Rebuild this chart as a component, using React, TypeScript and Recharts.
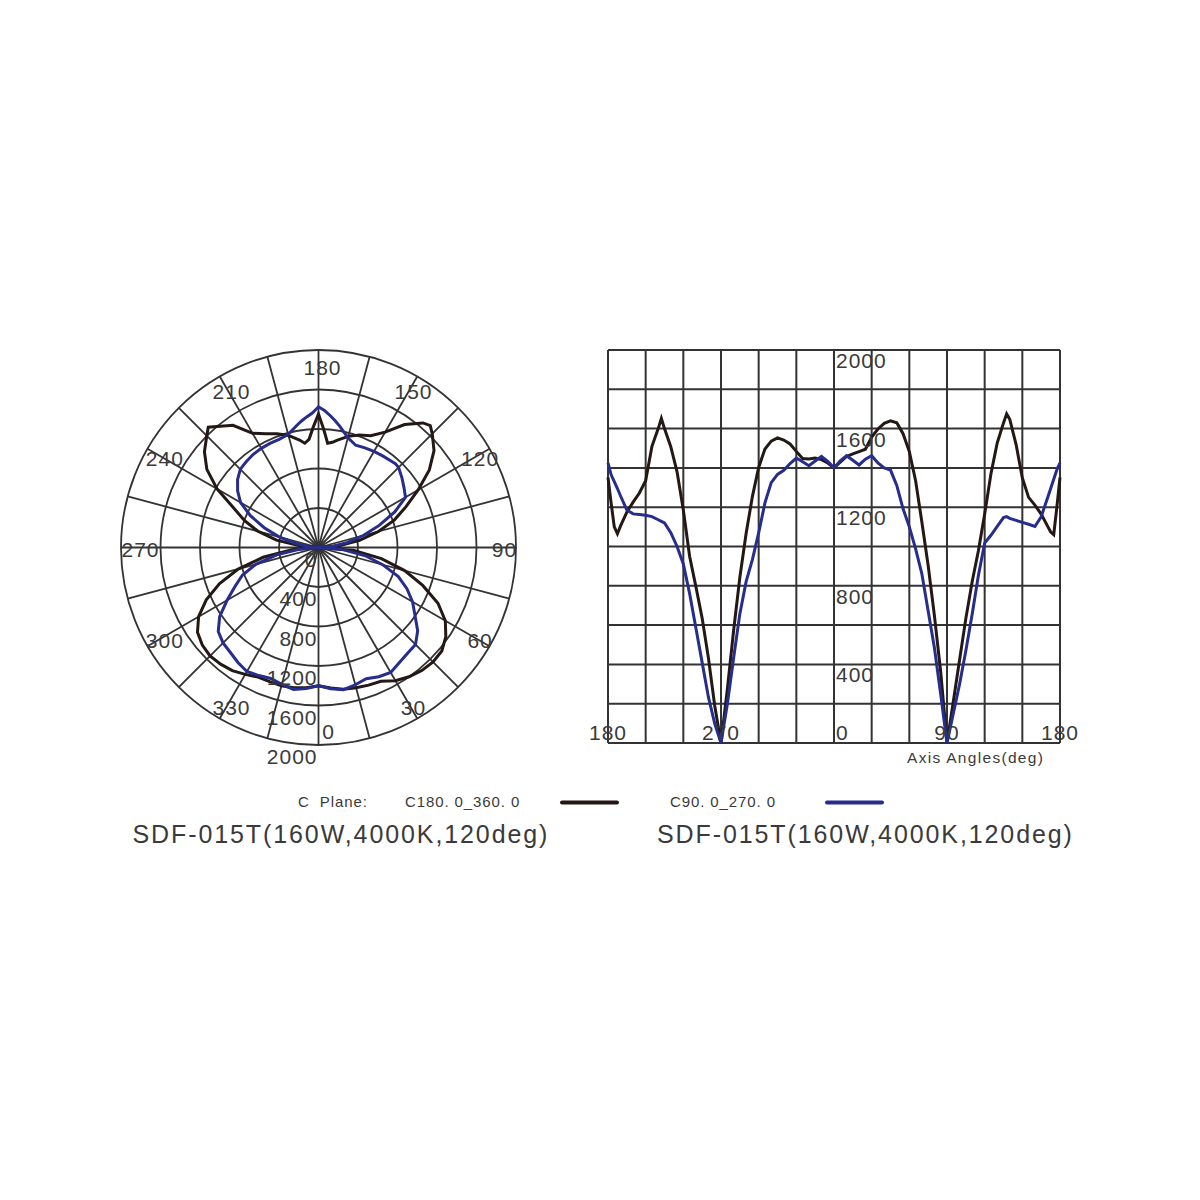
import React from "react";
import {
  RadarChart,
  Radar,
  PolarGrid,
  PolarAngleAxis,
  PolarRadiusAxis,
  LineChart,
  Line,
  XAxis,
  YAxis,
  CartesianGrid,
} from "recharts";

const FONT = '"Liberation Sans", Arial, Helvetica, sans-serif';
const TEXT = "#3a3a3a";
const GRID = "#333333";
const BLACK = "#231815";
const BLUE = "#262d8c";

// gamma angle (deg), 0 = nadir; a few half steps where the curves have spikes
const gammaAngles = [
  0, 5, 10, 15, 20, 25, 30, 35, 40, 45, 50, 55, 60, 65, 70, 75, 80, 85, 90,
  95, 100, 105, 110, 115, 120, 125, 130, 135, 137.5, 140, 145, 150, 155, 160, 165, 170, 172.5, 175, 177.5,
  180, 182.5, 185, 187.5, 190, 195, 200, 205, 210, 215, 220, 222.5,
  225, 230, 235, 240, 245, 250, 255, 260, 265, 270,
  275, 280, 285, 290, 295, 300, 305, 310, 315, 320, 325, 330, 335, 340, 345, 350, 355,
];

// C180.0_360.0 (cd)
const c180Values = [
  1400, 1429, 1458, 1471, 1483, 1495, 1557, 1598, 1627, 1640, 1630, 1574, 1483, 1335, 1123, 903, 647, 360, 0,
  210, 422, 633, 819, 978, 1165, 1370, 1527, 1629, 1675, 1647, 1520, 1349, 1250, 1211, 1165, 1105, 1075, 1060, 1200,
  1352, 1220, 1100, 1065, 1105, 1175, 1226, 1272, 1335, 1510, 1600, 1652,
  1600, 1508, 1380, 1186, 950, 796, 635, 432, 190, 0,
  270, 570, 842, 1066, 1254, 1402, 1496, 1536, 1553, 1542, 1522, 1484, 1448, 1445, 1450, 1442, 1425,
];

// C90.0_270.0 (cd)
const c90Values = [
  1400, 1436, 1462, 1439, 1415, 1444, 1462, 1425, 1400, 1389, 1311, 1192, 1100, 988, 860, 672, 483, 247, 0,
  149, 299, 469, 654, 852, 1017, 1057, 1102, 1147, 1152, 1143, 1133, 1123, 1113, 1102, 1151, 1246, 1294, 1342, 1390,
  1425, 1365, 1330, 1295, 1257, 1186, 1166, 1163, 1159, 1152, 1136, 1128,
  1120, 1070, 1000, 911, 761, 585, 409, 233, 99, 0,
  196, 430, 657, 821, 933, 1069, 1222, 1325, 1367, 1388, 1422, 1450, 1431, 1411, 1435, 1459, 1433,
];

const seriesNames = ["C180. 0_360. 0", "C90. 0_270. 0"];
const planeLabel = "C  Plane:";
const modelTitle = "SDF-015T(160W,4000K,120deg)";
const axisTitle = "Axis Angles(deg)";

const spokeAngles = [0, 15, 30, 45, 60, 75, 90, 105, 120, 135, 150, 165, 180, 195, 210, 225, 240, 255, 270, 285, 300, 315, 330, 345];
const gridValues = [0, 200, 400, 600, 800, 1000, 1200, 1400, 1600, 1800, 2000];
const valueLabels = [400, 800, 1200, 1600, 2000];
const lineGridAngles = [180, 210, 240, 270, 300, 330, 360, 390, 420, 450, 480, 510, 540];
const lineLabelAngles = [180, 270, 360, 450, 540];

const polarData = gammaAngles.map((g, i) => ({ gamma: g, c180: c180Values[i], c90: c90Values[i] }));

// same curves unrolled 180 -> 270 -> 0 -> 90 -> 180
const lineData = [
  ...polarData.filter((d) => d.gamma >= 180).map((d) => ({ ...d, x: d.gamma })),
  ...polarData.filter((d) => d.gamma < 180).map((d) => ({ ...d, x: d.gamma + 360 })),
  ...polarData.filter((d) => d.gamma === 180).map((d) => ({ ...d, x: 540 })),
];

// polar layout
const P_W = 440;
const P_H = 440;
const P_CX = 218.5;
const P_CY = 217.5;
const P_R = 197.5;
const START_ANGLE = -90;
const RAD = Math.PI / 180;
const LABEL_R = 182;

const AngleTick = (props: any) => {
  const v = props.payload.value;
  if (v >= 360) return null;
  const a = (START_ANGLE + v) * RAD;
  const x = P_CX + 4 + LABEL_R * Math.cos(-a) + (v === 0 ? 6 : 0);
  const y = P_CY + 2 + LABEL_R * Math.sin(-a);
  return (
    <text x={x} y={y} textAnchor="middle" dominantBaseline="central" fill={TEXT} fontSize={21} fontFamily={FONT} letterSpacing={1}>
      {v}
    </text>
  );
};

const RadiusTick = (props: any) => {
  const { x, y, payload } = props;
  return (
    <text x={x - 1} y={y + 19} textAnchor="end" fill={TEXT} fontSize={21} fontFamily={FONT} letterSpacing={1}>
      {payload.value}
    </text>
  );
};

// line chart layout (axes are 1px so they still render their ticks)
const L_W = 500;
const L_H = 450;
const L_MARGIN = { top: 20, right: 30, bottom: 36, left: 17 };
const PLOT_LEFT = L_MARGIN.left + 1;
const PLOT_W = L_W - PLOT_LEFT - L_MARGIN.right;
const PLOT_BOTTOM = L_H - L_MARGIN.bottom - 1;
const ZERO_X = PLOT_LEFT + ((360 - 180) / (540 - 180)) * PLOT_W;

const XTick = (props: any) => {
  const v = props.payload.value;
  if (!lineLabelAngles.includes(v)) return null;
  const label = v % 360;
  return (
    <text
      x={label === 0 ? props.x + 2 : props.x}
      y={PLOT_BOTTOM - 3}
      textAnchor={label === 0 ? "start" : "middle"}
      fill={TEXT}
      fontSize={21}
      fontFamily={FONT}
      letterSpacing={1}
    >
      {label}
    </text>
  );
};

const YTick = (props: any) => {
  const v = props.payload.value;
  if (!valueLabels.includes(v)) return null;
  return (
    <text x={ZERO_X + 2} y={props.y + 18} textAnchor="start" fill={TEXT} fontSize={21} fontFamily={FONT} letterSpacing={1}>
      {v}
    </text>
  );
};

export default function App() {
  return (
    <div style={{ position: "absolute", left: 0, top: 0, width: 1200, height: 1200, background: "#fff" }}>
      <div style={{ position: "absolute", left: 100, top: 330 }}>
        <RadarChart
          width={P_W}
          height={P_H}
          data={polarData}
          cx={P_CX}
          cy={P_CY}
          innerRadius={0}
          outerRadius={P_R}
          startAngle={START_ANGLE}
          endAngle={START_ANGLE + 360}
          margin={{ top: 0, right: 0, bottom: 0, left: 0 }}
        >
          <PolarGrid
            gridType="circle"
            polarAngles={spokeAngles.map((g) => START_ANGLE + g)}
            stroke={GRID}
            strokeWidth={1.8}
          />
          <PolarAngleAxis
            dataKey="gamma"
            type="number"
            domain={[0, 360]}
            tickCount={13}
            axisLine={false}
            tickLine={false}
            tick={AngleTick}
          />
          <PolarRadiusAxis
            angle={-90}
            type="number"
            domain={[0, 2000]}
            tickCount={6}
            axisLine={false}
            tick={RadiusTick}
          />
          <Radar dataKey="c180" stroke={BLACK} strokeWidth={3} fill="none" fillOpacity={0} dot={false} isAnimationActive={false} />
          <Radar dataKey="c90" stroke={BLUE} strokeWidth={3} fill="none" fillOpacity={0} dot={false} isAnimationActive={false} />
        </RadarChart>
      </div>

      <div style={{ position: "absolute", left: 590, top: 330 }}>
        <LineChart width={L_W} height={L_H} data={lineData} margin={L_MARGIN}>
          <CartesianGrid stroke={GRID} strokeWidth={2} />
          <XAxis
            dataKey="x"
            type="number"
            domain={[180, 540]}
            ticks={lineGridAngles}
            interval={0}
            height={1}
            axisLine={false}
            tickLine={false}
            tick={XTick}
          />
          <YAxis
            type="number"
            domain={[0, 2000]}
            ticks={gridValues}
            interval={0}
            width={1}
            axisLine={false}
            tickLine={false}
            tick={YTick}
          />
          <Line type="linear" dataKey="c180" stroke={BLACK} strokeWidth={3} dot={false} isAnimationActive={false} />
          <Line type="linear" dataKey="c90" stroke={BLUE} strokeWidth={3} dot={false} isAnimationActive={false} />
        </LineChart>
      </div>

      <svg width={1200} height={1200} style={{ position: "absolute", left: 0, top: 0, pointerEvents: "none" }}>
        <text x={907} y={763} fill={TEXT} fontSize={15.5} fontFamily={FONT} letterSpacing={1.3}>
          {axisTitle}
        </text>
        <text x={298} y={807} fill={TEXT} fontSize={15} fontFamily={FONT} letterSpacing={0.9} style={{ whiteSpace: "pre" }}>
          {planeLabel}
        </text>
        <text x={405} y={807} fill={TEXT} fontSize={15} fontFamily={FONT} letterSpacing={0.9}>
          {seriesNames[0]}
        </text>
        <line x1={562} x2={617} y1={802.5} y2={802.5} stroke={BLACK} strokeWidth={4} strokeLinecap="round" />
        <text x={670} y={807} fill={TEXT} fontSize={15} fontFamily={FONT} letterSpacing={0.9}>
          {seriesNames[1]}
        </text>
        <line x1={827} x2={882} y1={802.5} y2={802.5} stroke={BLUE} strokeWidth={4} strokeLinecap="round" />
        <text x={132.5} y={843} fill={TEXT} fontSize={25} fontFamily={FONT} letterSpacing={1.9}>
          {modelTitle}
        </text>
        <text x={657} y={843} fill={TEXT} fontSize={25} fontFamily={FONT} letterSpacing={1.9}>
          {modelTitle}
        </text>
      </svg>
    </div>
  );
}
